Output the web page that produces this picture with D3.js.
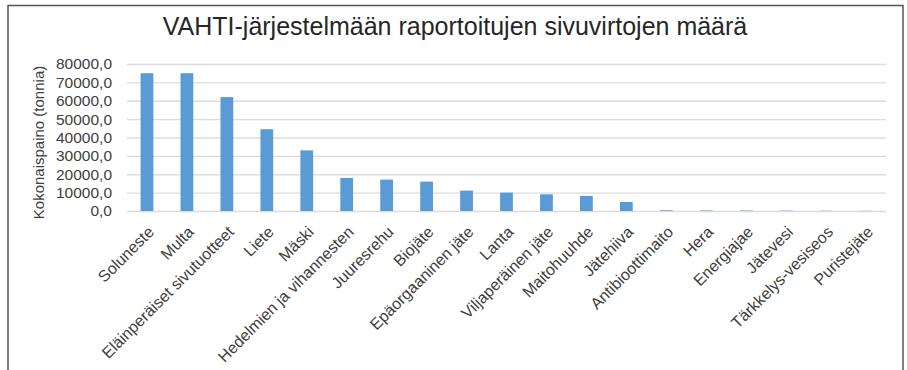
<!DOCTYPE html>
<html>
<head>
<meta charset="utf-8">
<script src="https://cdn.jsdelivr.net/npm/d3@7"></script>
<style>
  html, body { margin: 0; padding: 0; background: #fff; }
  svg { display: block; font-family: "Liberation Sans", Arial, sans-serif; }
</style>
</head>
<body>
<svg id="chart" width="907" height="370"></svg>
<script>
// Side streams reported to VAHTI, total weight in tonnes
const categories = [
  "Soluneste", "Multa", "Eläinperäiset sivutuotteet", "Liete", "Mäski",
  "Hedelmien ja vihannesten", "Juuresrehu", "Biojäte", "Epäorgaaninen jäte",
  "Lanta", "Viljaperäinen jäte", "Maitohuuhde", "Jätehiiva", "Antibioottimaito",
  "Hera", "Energiajae", "Jätevesi", "Tärkkelys-vesiseos", "Puristejäte"
];
const weights = [
  75000, 75000, 62000, 44500, 33000,
  18000, 17100, 16000, 11100,
  10000, 9100, 8200, 4900, 400,
  300, 250, 200, 150, 100
];
const yTicks = [0, 10000, 20000, 30000, 40000, 50000, 60000, 70000, 80000];
const titleText = "VAHTI-järjestelmään raportoitujen sivuvirtojen määrä";
const yAxisTitle = "Kokonaispaino (tonnia)";

const svg = d3.select("#chart");
const plot = { left: 127, right: 886, top: 64, bottom: 211 };

// outer frame
svg.append("rect")
  .attr("x", 8).attr("y", 5.5)
  .attr("width", 895).attr("height", 380)
  .attr("fill", "#fff")
  .attr("stroke", "#555").attr("stroke-width", 1.5);

const x = d3.scaleBand()
  .domain(categories)
  .range([plot.left, plot.right])
  .paddingInner(0.68)
  .paddingOuter(0.34);

const y = d3.scaleLinear()
  .domain([0, 80000])
  .range([plot.bottom, plot.top]);

const fmt = v => d3.format(".1f")(v).replace(".", ",");

// gridlines
const grid = d3.axisLeft(y)
  .tickValues(yTicks)
  .tickSize(-(plot.right - plot.left))
  .tickFormat("");
svg.append("g")
  .attr("transform", `translate(${plot.left},0)`)
  .call(grid)
  .call(g => g.select(".domain").remove())
  .call(g => g.selectAll("line").attr("stroke", "#dcdcdc").attr("stroke-width", 1.3));

// y tick labels
const yAxis = d3.axisLeft(y)
  .tickValues(yTicks)
  .tickSize(0)
  .tickPadding(15)
  .tickFormat(fmt);
svg.append("g")
  .attr("transform", `translate(${plot.left},0)`)
  .call(yAxis)
  .call(g => g.select(".domain").remove())
  .call(g => g.selectAll("text")
    .attr("font-size", 15.5)
    .attr("font-family", "Liberation Sans, Arial, sans-serif")
    .attr("fill", "#404040"));

// bars
svg.append("g")
  .selectAll("rect")
  .data(categories)
  .join("rect")
  .attr("x", d => x(d))
  .attr("width", x.bandwidth())
  .attr("y", (d, i) => y(weights[i]))
  .attr("height", (d, i) => y(0) - y(weights[i]))
  .attr("fill", "#5b9bd5");

// x labels, rotated
const xAxis = d3.axisBottom(x).tickSize(0).tickPadding(0);
svg.append("g")
  .attr("transform", `translate(0,${plot.bottom})`)
  .call(xAxis)
  .call(g => g.select(".domain").remove())
  .call(g => g.selectAll("text")
    .attr("font-size", 16)
    .attr("font-family", "Liberation Sans, Arial, sans-serif")
    .attr("fill", "#404040")
    .attr("text-anchor", "end")
    .attr("dy", "0.35em")
    .attr("transform", "translate(4,18) rotate(-45)"));

// title
svg.append("text")
  .attr("x", 455).attr("y", 35)
  .attr("text-anchor", "middle")
  .attr("font-size", 25)
  .attr("fill", "#262626")
  .text(titleText);

// y axis title
svg.append("text")
  .attr("transform", `translate(44,${(plot.top + plot.bottom) / 2 + 5}) rotate(-90)`)
  .attr("text-anchor", "middle")
  .attr("font-size", 15)
  .attr("fill", "#404040")
  .text(yAxisTitle);
</script>
</body>
</html>
